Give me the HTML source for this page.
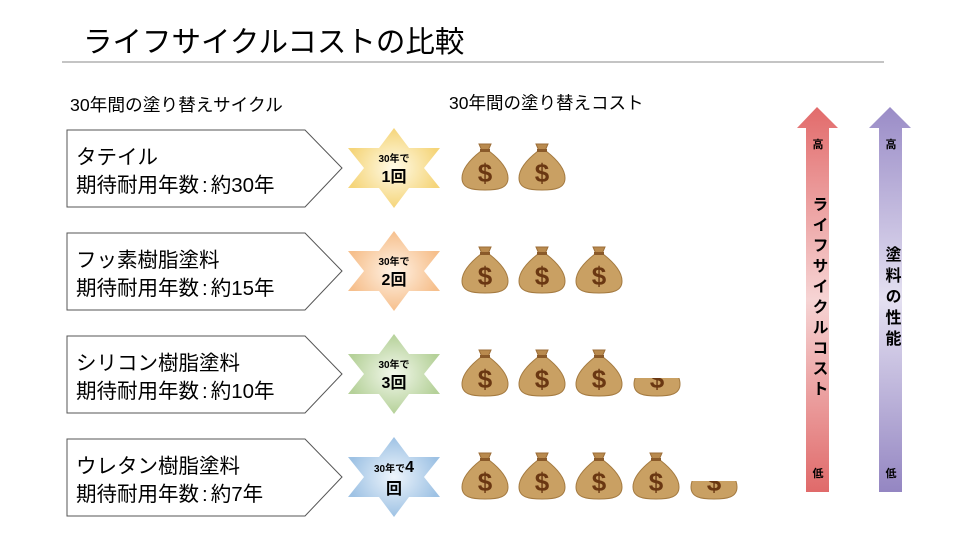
<!DOCTYPE html>
<html><head><meta charset="utf-8">
<style>
body{margin:0;background:#fff;}
svg text{font-family:"Liberation Sans","Noto Sans CJK JP",sans-serif;}
</style></head><body>
<svg width="960" height="540" viewBox="0 0 960 540" xmlns="http://www.w3.org/2000/svg">
<defs>
<radialGradient id="gY"><stop offset="0" stop-color="#fffbe8"/><stop offset="1" stop-color="#f5d57a"/></radialGradient>
<radialGradient id="gO"><stop offset="0" stop-color="#fff3e6"/><stop offset="1" stop-color="#f6bf8c"/></radialGradient>
<radialGradient id="gG"><stop offset="0" stop-color="#f3f8ec"/><stop offset="1" stop-color="#b5d199"/></radialGradient>
<radialGradient id="gB"><stop offset="0" stop-color="#eef5fc"/><stop offset="1" stop-color="#9ec2e4"/></radialGradient>
<linearGradient id="gR" x1="0" y1="0" x2="0" y2="1"><stop offset="0" stop-color="#e26b6b"/><stop offset="0.5" stop-color="#f6d4d4"/><stop offset="1" stop-color="#e06a6a"/></linearGradient>
<linearGradient id="gP" x1="0" y1="0" x2="0" y2="1"><stop offset="0" stop-color="#9a8cc7"/><stop offset="0.5" stop-color="#e4e0f1"/><stop offset="1" stop-color="#9486c2"/></linearGradient>
<g id="bag">
<path d="M-6,-22 L6,-22 L3,-15 L-3,-15 Z" fill="#b98a4e" stroke="#9c6e38" stroke-width="1"/>
<path d="M-4,-15 C-13,-8 -23,2 -23,12 C-23,22 -14,24 0,24 C14,24 23,22 23,12 C23,2 13,-8 4,-15 Z" fill="#c9a063" stroke="#a47a40" stroke-width="1"/>
<rect x="-5" y="-17" width="10" height="3" fill="#8a5a2a"/>
<text x="0" y="16" font-size="26" font-weight="bold" fill="#6a3712" text-anchor="middle">$</text>
</g>
<clipPath id="half"><rect x="-30" y="6" width="60" height="30"/></clipPath>
<polygon id="star" points="0,-40 15,-20 46,-20 30,0 46,20 15,20 0,40 -15,20 -46,20 -30,0 -46,-20 -15,-20"/>
</defs>

<text x="83" y="52" font-size="29.5" fill="#000">ライフサイクルコストの比較</text>
<line x1="62" y1="62" x2="884" y2="62" stroke="#888" stroke-width="1"/>

<text x="70" y="111" font-size="17.7">30年間の塗り替えサイクル</text>
<text x="449" y="109" font-size="17.5">30年間の塗り替えコスト</text>

<g fill="#fff" stroke="#555" stroke-width="1">
<polygon points="67,130 305,130 342,168 305,207 67,207"/>
<polygon points="67,233 305,233 342,271 305,310 67,310"/>
<polygon points="67,336 305,336 342,374 305,413 67,413"/>
<polygon points="67,439 305,439 342,477 305,516 67,516"/>
</g>
<g font-size="20.5" fill="#000">
<text x="76" y="164">タテイル</text><text x="76" y="192">期待耐用年数<tspan dx="3">:</tspan><tspan dx="3">約30年</tspan></text>
<text x="76" y="267">フッ素樹脂塗料</text><text x="76" y="295">期待耐用年数<tspan dx="3">:</tspan><tspan dx="3">約15年</tspan></text>
<text x="76" y="370">シリコン樹脂塗料</text><text x="76" y="398">期待耐用年数<tspan dx="3">:</tspan><tspan dx="3">約10年</tspan></text>
<text x="76" y="473">ウレタン樹脂塗料</text><text x="76" y="501">期待耐用年数<tspan dx="3">:</tspan><tspan dx="3">約7年</tspan></text>
</g>

<use href="#star" x="394" y="168" fill="url(#gY)"/>
<use href="#star" x="394" y="271" fill="url(#gO)"/>
<use href="#star" x="394" y="374" fill="url(#gG)"/>
<use href="#star" x="394" y="477" fill="url(#gB)"/>
<g font-weight="bold" text-anchor="middle" fill="#000">
<text x="394" y="162" font-size="10">30年で</text><text x="394" y="182" font-size="16">1回</text>
<text x="394" y="265" font-size="10">30年で</text><text x="394" y="285" font-size="16">2回</text>
<text x="394" y="368" font-size="10">30年で</text><text x="394" y="388" font-size="16">3回</text>
<text x="394" y="472" font-size="10">30年で<tspan font-size="16">4</tspan></text><text x="394" y="494" font-size="16">回</text>
</g>

<use href="#bag" x="485" y="166"/><use href="#bag" x="542" y="166"/>
<use href="#bag" x="485" y="269"/><use href="#bag" x="542" y="269"/><use href="#bag" x="599" y="269"/>
<use href="#bag" x="485" y="372"/><use href="#bag" x="542" y="372"/><use href="#bag" x="599" y="372"/>
<g transform="translate(657,372)" clip-path="url(#half)"><use href="#bag"/></g>
<use href="#bag" x="485" y="475"/><use href="#bag" x="542" y="475"/><use href="#bag" x="599" y="475"/><use href="#bag" x="656" y="475"/>
<g transform="translate(714,475)" clip-path="url(#half)"><use href="#bag"/></g>

<polygon points="817,107 838,128 829,128 829,492 806,492 806,128 797,128" fill="url(#gR)"/>
<polygon points="890,107 911,128 902,128 902,492 879,492 879,128 869,128" fill="url(#gP)"/>
<g font-size="11" text-anchor="middle" font-weight="bold">
<text x="818" y="148">高</text><text x="818" y="477">低</text>
<text x="891" y="148">高</text><text x="891" y="477">低</text>
</g>
<text x="818" y="196" font-size="16" font-weight="bold" letter-spacing="4.5" style="writing-mode:vertical-rl" text-anchor="start">ライフサイクルコスト</text>
<text x="891" y="246" font-size="16" font-weight="bold" letter-spacing="5" style="writing-mode:vertical-rl" text-anchor="start">塗料の性能</text>
</svg>
</body></html>
